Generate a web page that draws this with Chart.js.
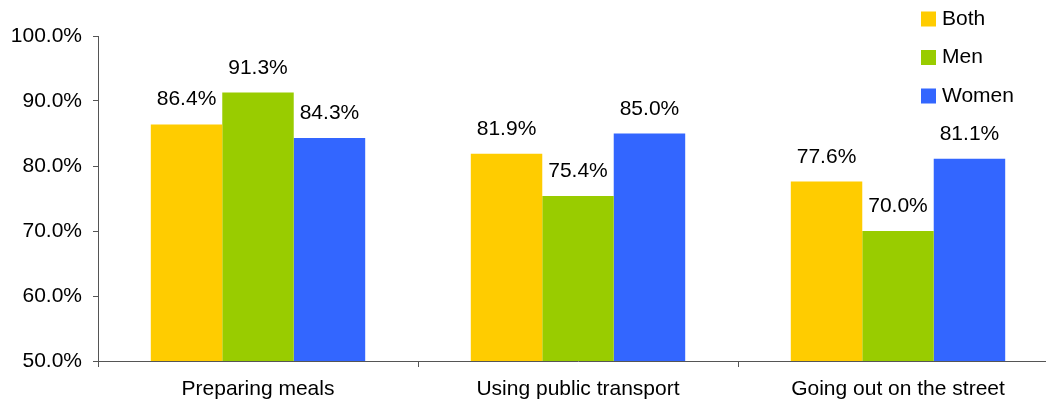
<!DOCTYPE html>
<html>
<head>
<meta charset="utf-8">
<script src="https://cdn.jsdelivr.net/npm/chart.js@4"></script>
<style>
  html, body { margin: 0; padding: 0; background: #fff; overflow: hidden; }
  #wrap { width: 1060px; height: 405px; }
</style>
</head>
<body>
<div id="wrap"><canvas id="chart" width="1060" height="405"></canvas></div>
<script>
// data
const categories = ['Preparing meals', 'Using public transport', 'Going out on the street'];
const seriesNames = ['Both', 'Men', 'Women'];
const bothValues = [86.4, 81.9, 77.6];
const menValues = [91.3, 75.4, 70.0];
const womenValues = [84.3, 85.0, 81.1];
const yTicks = [50, 60, 70, 80, 90, 100];

const colors = ['#FFCC00', '#99CC00', '#3366FF'];
const FONT = 'Liberation Sans, Arial, sans-serif';
const AXIS = '#555555';

// value labels above bars
const barLabels = {
    id: 'barLabels',
    afterDatasetsDraw(chart) {
        const ctx = chart.ctx;
        ctx.save();
        ctx.font = '21px ' + FONT;
        ctx.fillStyle = '#000';
        ctx.textAlign = 'center';
        ctx.textBaseline = 'alphabetic';
        chart.data.datasets.forEach((ds, i) => {
            chart.getDatasetMeta(i).data.forEach((bar, j) => {
                ctx.fillText(ds.data[j].toFixed(1) + '%', bar.x, bar.y - 19);
            });
        });
        ctx.restore();
    }
};

// legend top right, stacked
const sideLegend = {
    id: 'sideLegend',
    afterDraw(chart) {
        const ctx = chart.ctx;
        ctx.save();
        ctx.font = '21px ' + FONT;
        ctx.textBaseline = 'middle';
        chart.data.datasets.forEach((ds, i) => {
            const y = 19 + i * 38.5;
            ctx.fillStyle = ds.backgroundColor;
            ctx.fillRect(921, y - 7.5, 15, 15);
            ctx.fillStyle = '#000';
            ctx.fillText(ds.label, 942, y);
        });
        ctx.restore();
    }
};

new Chart(document.getElementById('chart'), {
    type: 'bar',
    data: {
        labels: categories,
        datasets: [
            { label: seriesNames[0], data: bothValues, backgroundColor: colors[0] },
            { label: seriesNames[1], data: menValues, backgroundColor: colors[1] },
            { label: seriesNames[2], data: womenValues, backgroundColor: colors[2] }
        ]
    },
    options: {
        responsive: false,
        animation: false,
        layout: { padding: { left: 0, right: 2, top: 36, bottom: 0 } },
        datasets: { bar: { categoryPercentage: 0.67, barPercentage: 1.0 } },
        plugins: { legend: { display: false }, tooltip: { enabled: false } },
        scales: {
            x: {
                grid: { offset: true, drawOnChartArea: false, drawTicks: true, tickLength: 6, color: AXIS },
                border: { color: AXIS, width: 1 },
                ticks: { color: '#000', font: { family: FONT, size: 21 }, padding: 10 },
                afterFit(scale) { scale.height = 44; }
            },
            y: {
                min: 50,
                max: 100,
                afterBuildTicks(scale) { scale.ticks = yTicks.map(v => ({ value: v })); },
                grid: { drawOnChartArea: false, drawTicks: true, tickLength: 5, color: AXIS },
                border: { color: AXIS, width: 1 },
                ticks: {
                    color: '#000',
                    font: { family: FONT, size: 21 },
                    padding: 11,
                    callback: v => v.toFixed(1) + '%'
                },
                afterFit(scale) { scale.width = 98; }
            }
        }
    },
    plugins: [barLabels, sideLegend]
});
</script>
</body>
</html>
